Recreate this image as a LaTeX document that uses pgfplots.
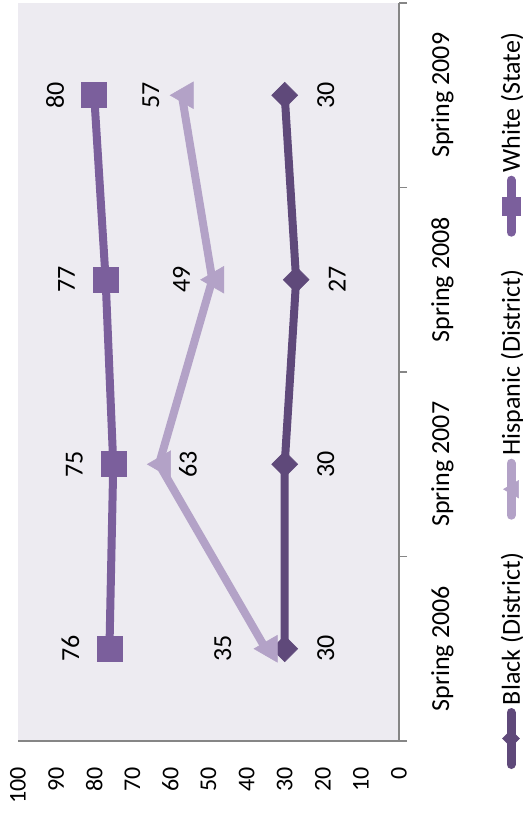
\documentclass[border=0pt]{standalone}
\usepackage{fontspec}
\setmainfont{Carlito}
\usepackage{pgfplots}
\pgfplotsset{compat=1.18}
\definecolor{cBlack}{HTML}{5F497A}
\definecolor{cHisp}{HTML}{B3A2C7}
\definecolor{cWhite}{HTML}{7B5F9C}
\definecolor{cBg}{HTML}{EDEBF1}
\definecolor{cAxis}{HTML}{868686}
\tikzset{lbl/.style={font=\fontsize{26bp}{30bp}\selectfont, inner sep=0pt, anchor=center, text=black}}
\begin{document}
\begin{tikzpicture}
\useasboundingbox (0,0) rectangle (523bp,815bp);
\begin{scope}[transform canvas={rotate=90}]
\begin{axis}[
  at={(443bp,-208.5bp)}, anchor=center,
  scale only axis, width=738bp, height=381bp,
  xmin=0.5, xmax=4.5, ymin=0, ymax=100,
  axis x line*=bottom, axis y line*=left,
  axis line style={cAxis, line width=1.2bp},
  axis background/.style={fill=cBg},
  ytick={0,10,...,100},
  xtick={1,2,3,4},
  xticklabels={Spring 2006,Spring 2007,Spring 2008,Spring 2009},
  minor xtick={0.5,1.5,2.5,3.5,4.5},
  major tick length=0pt,
  minor tick length=8bp,
  tick align=outside,
  minor tick style={cAxis, line width=1.2bp},
  yticklabel style={font=\fontsize{24bp}{28bp}\selectfont, xshift=-26bp, anchor=east, inner sep=0pt},
  xticklabel style={font=\fontsize{26bp}{30bp}\selectfont, yshift=-32bp, anchor=north, inner sep=0pt},
  /pgf/number format/assume math mode=true,
  clip=false,
  point meta=y,
  legend columns=3,
  legend image code/.code={\draw[mark repeat=2,mark phase=2,#1] plot coordinates {(0bp,0bp) (26bp,0bp) (52bp,0bp)};},
  legend style={at={(axis description cs:0.4627,-0.294)}, anchor=center, draw=none, fill=none,
    font=\fontsize{26bp}{30bp}\selectfont, inner sep=0pt, nodes={inner sep=3bp},
    /tikz/every even column/.append style={column sep=30bp}},
]
% Black (District)
\addplot[cBlack, line width=8bp, mark=square*, mark size=9.2bp,
  mark options={solid, rotate=45, fill=cBlack, draw=cBlack, line width=0.5bp}, forget plot,
  nodes near coords, nodes near coords style={lbl, yshift=-41bp}]
  coordinates {(1,30) (2,30) (3,27) (4,30)};
% Hispanic (District)
\addplot[cHisp, line width=8bp, mark=triangle*, mark size=15.5bp,
  mark options={solid, yshift=-3.9bp, fill=cHisp, draw=cHisp, line width=0.5bp}, forget plot]
  coordinates {(1,35) (2,63) (3,49) (4,57)};
\addplot[draw=none, mark=none, forget plot,
  nodes near coords, nodes near coords style={lbl, yshift=43bp}]
  coordinates {(1,35)};
\addplot[draw=none, mark=none, forget plot,
  nodes near coords, nodes near coords style={lbl, yshift=-29bp}]
  coordinates {(2,63)};
\addplot[draw=none, mark=none, forget plot,
  nodes near coords, nodes near coords style={lbl, yshift=31bp}]
  coordinates {(3,49) (4,57)};
% White (State)
\addplot[cWhite, line width=8bp, mark=square*, mark size=12.5bp,
  mark options={solid, fill=cWhite, draw=cWhite, line width=0.5bp}, forget plot,
  nodes near coords, nodes near coords style={lbl, yshift=39bp}]
  coordinates {(1,76) (2,75) (3,77) (4,80)};
% legend images
\addlegendimage{cBlack, line width=9bp, line cap=round, mark=square*, mark size=6bp, mark options={solid, rotate=45, line width=0.5bp, fill=cBlack}}
\addlegendimage{cHisp, line width=9bp, line cap=round, mark=triangle*, mark size=10bp, mark options={solid, yshift=-2.5bp, line width=0.5bp, fill=cHisp}}
\addlegendimage{cWhite, line width=9bp, line cap=round, mark=square*, mark size=8.75bp, mark options={solid, line width=0.5bp, fill=cWhite}}
\legend{Black (District), Hispanic (District), White (State)}
\end{axis}
\end{scope}
\end{tikzpicture}
\end{document}
